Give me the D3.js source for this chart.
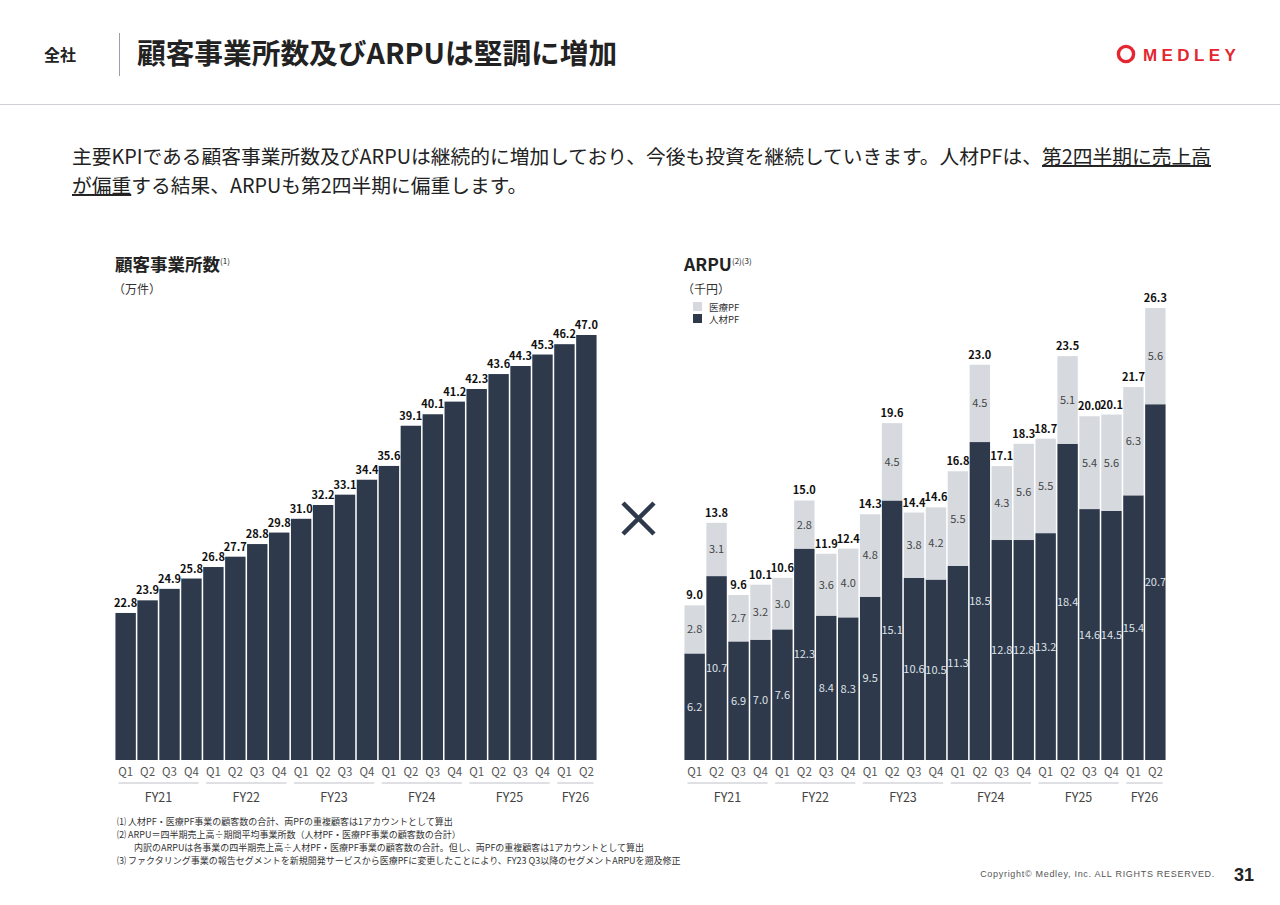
<!DOCTYPE html>
<html lang="ja">
<head>
<meta charset="utf-8">
<script src="https://cdn.jsdelivr.net/npm/d3@7"></script>
<style>
  html, body { margin: 0; padding: 0; background: #fff; }
  svg { display: block; font-family: "Noto Sans CJK JP", "Noto Sans", sans-serif; }
</style>
</head>
<body>
<svg id="slide" width="1280" height="905"></svg>
<script>
// ---- data ----
var fyLabels = ["FY21", "FY22", "FY23", "FY24", "FY25", "FY26"];
var fyQuarters = [4, 4, 4, 4, 4, 2];
var qLabels = ["Q1", "Q2", "Q3", "Q4"];

var offices = [22.8, 23.9, 24.9, 25.8, 26.8, 27.7, 28.8, 29.8, 31.0, 32.2, 33.1,
               34.4, 35.6, 39.1, 40.1, 41.2, 42.3, 43.6, 44.3, 45.3, 46.2, 47.0];

var arpuTotal  = [9.0, 13.8, 9.6, 10.1, 10.6, 15.0, 11.9, 12.4, 14.3, 19.6, 14.4,
                  14.6, 16.8, 23.0, 17.1, 18.3, 18.7, 23.5, 20.0, 20.1, 21.7, 26.3];
var arpuJinzai = [6.2, 10.7, 6.9, 7.0, 7.6, 12.3, 8.4, 8.3, 9.5, 15.1, 10.6,
                  10.5, 11.3, 18.5, 12.8, 12.8, 13.2, 18.4, 14.6, 14.5, 15.4, 20.7];
var arpuIryo   = [2.8, 3.1, 2.7, 3.2, 3.0, 2.8, 3.6, 4.0, 4.8, 4.5, 3.8,
                  4.2, 5.5, 4.5, 4.3, 5.6, 5.5, 5.1, 5.4, 5.6, 6.3, 5.6];

var footnotes = [
  "⑴ 人材PF・医療PF事業の顧客数の合計、両PFの重複顧客は1アカウントとして算出",
  "⑵ ARPU＝四半期売上高÷期間平均事業所数（人材PF・医療PF事業の顧客数の合計）",
  "内訳のARPUは各事業の四半期売上高÷人材PF・医療PF事業の顧客数の合計。但し、両PFの重複顧客は1アカウントとして算出",
  "⑶ ファクタリング事業の報告セグメントを新規開発サービスから医療PFに変更したことにより、FY23 Q3以降のセグメントARPUを遡及修正"
];

var DARK = "#2e394c", LIGHT = "#d6dadf";

// periods (one per bar)
var periods = [];
fyLabels.forEach(function(fy, i) {
  for (var q = 0; q < fyQuarters[i]; q++) periods.push({id: fy + qLabels[q], fy: fy, q: qLabels[q]});
});
periods.forEach(function(p, i) {
  p.offices = offices[i];
  p.total = arpuTotal[i];
  p.jinzai = arpuJinzai[i];
  p.iryo = arpuIryo[i];
});

var svg = d3.select("#slide");

// ---- header ----
svg.append("text").attr("x", 44).attr("y", 61).attr("font-size", 16).attr("font-weight", 700)
  .attr("fill", "#222").text("全社");
svg.append("line").attr("x1", 119.5).attr("x2", 119.5).attr("y1", 33).attr("y2", 76)
  .attr("stroke", "#9aa0a8").attr("stroke-width", 1);
svg.append("text").attr("x", 137).attr("y", 64).attr("font-size", 28.7).attr("font-weight", 700)
  .attr("fill", "#222").text("顧客事業所数及びARPUは堅調に増加");
svg.append("line").attr("x1", 0).attr("x2", 1280).attr("y1", 104.5).attr("y2", 104.5)
  .attr("stroke", "#cfd2d6").attr("stroke-width", 1.2);

// logo
var logo = svg.append("g").attr("transform", "translate(1126,54)");
logo.append("circle").attr("r", 7.6).attr("fill", "none").attr("stroke", "#e3262f").attr("stroke-width", 3.4);
logo.append("path").attr("d", "M-4,-2 L3,-5 L3,4 Z").attr("fill", "#fff");
svg.append("text").attr("x", 1143).attr("y", 60.5).attr("font-family", "'Liberation Sans', Arial, sans-serif")
  .attr("font-size", 17).attr("font-weight", 700).attr("letter-spacing", 4.4).attr("fill", "#e3262f").text("MEDLEY");

// lead text
var lead1 = svg.append("text").attr("x", 72).attr("y", 164).attr("font-size", 19.75).attr("fill", "#222");
lead1.append("tspan").text("主要KPIである顧客事業所数及びARPUは継続的に増加しており、今後も投資を継続していきます。人材PFは、");
lead1.append("tspan").style("text-decoration", "underline").text("第2四半期に売上高");
var lead2 = svg.append("text").attr("x", 72).attr("y", 193).attr("font-size", 19.75).attr("fill", "#222");
lead2.append("tspan").style("text-decoration", "underline").text("が偏重");
lead2.append("tspan").text("する結果、ARPUも第2四半期に偏重します。");

// ---- shared axis drawer ----
function drawAxis(g, x) {
  g.selectAll(".ql").data(periods).enter().append("text")
    .attr("x", function(d) { return x(d.id) + x.bandwidth() / 2; })
    .attr("y", 776).attr("text-anchor", "middle").attr("font-size", 11.5).attr("fill", "#555")
    .text(function(d) { return d.q; });
  var start = 0;
  fyLabels.forEach(function(fy, i) {
    var first = periods[start].id, last = periods[start + fyQuarters[i] - 1].id;
    var x0 = x(first) + 3, x1 = x(last) + x.bandwidth() - 3;
    g.append("line").attr("x1", x0).attr("x2", x1).attr("y1", 783).attr("y2", 783)
      .attr("stroke", "#d3d6da").attr("stroke-width", 1.5);
    g.append("text").attr("x", (x0 + x1) / 2).attr("y", 802).attr("text-anchor", "middle")
      .attr("font-size", 12.5).attr("fill", "#444").text(fy);
    start += fyQuarters[i];
  });
}

function chartTitle(x, title, sup, unit) {
  var t = svg.append("text").attr("x", x).attr("y", 271).attr("font-size", 17.5).attr("font-weight", 700).attr("fill", "#222");
  t.append("tspan").text(title);
  t.append("tspan").attr("font-size", 8).attr("font-weight", 400).attr("dy", -7).text(sup);
  svg.append("text").attr("x", x - 2).attr("y", 294).attr("font-size", 12).attr("fill", "#333").text(unit);
}

// ---- left chart: 顧客事業所数 ----
chartTitle(115, "顧客事業所数", "(1)", "（万件）");

var xL = d3.scaleBand().domain(periods.map(function(d) { return d.id; }))
  .range([115, 597]).paddingInner(0.07).paddingOuter(0.02);
var yL = d3.scaleLinear().domain([10, 47]).range([760, 335]);

var gL = svg.append("g");
gL.selectAll("rect").data(periods).enter().append("rect")
  .attr("x", function(d) { return xL(d.id); })
  .attr("y", function(d) { return yL(d.offices); })
  .attr("width", xL.bandwidth())
  .attr("height", function(d) { return yL(10) - yL(d.offices); })
  .attr("fill", DARK);
gL.selectAll(".vl").data(periods).enter().append("text")
  .attr("x", function(d) { return xL(d.id) + xL.bandwidth() / 2; })
  .attr("y", function(d) { return yL(d.offices) - 6; })
  .attr("text-anchor", "middle").attr("font-size", 11).attr("font-weight", 700).attr("fill", "#111")
  .text(function(d) { return d.offices.toFixed(1); });
drawAxis(gL, xL);

// multiply sign
svg.append("path").attr("d", "M623,503 L654,534 M654,503 L623,534")
  .attr("stroke", DARK).attr("stroke-width", 4.5).attr("fill", "none");

// ---- right chart: ARPU ----
chartTitle(684, "ARPU", "(2)(3)", "（千円）");

var legend = [{name: "医療PF", color: LIGHT}, {name: "人材PF", color: DARK}];
var lg = svg.selectAll(".lg").data(legend).enter().append("g")
  .attr("transform", function(d, i) { return "translate(693," + (302 + i * 12) + ")"; });
lg.append("rect").attr("width", 9).attr("height", 9).attr("fill", function(d) { return d.color; });
lg.append("text").attr("x", 16).attr("y", 8.5).attr("font-size", 9.5).attr("fill", "#333")
  .text(function(d) { return d.name; });

var xR = d3.scaleBand().domain(periods.map(function(d) { return d.id; }))
  .range([684, 1166]).paddingInner(0.07).paddingOuter(0.02);
var yR = d3.scaleLinear().domain([0, 26.3]).range([760, 308]);

var stack = d3.stack().keys(["jinzai", "iryo"])(periods);
var colors = {jinzai: DARK, iryo: LIGHT};
var labelColors = {jinzai: "#dfe2e6", iryo: "#444"};

var gR = svg.append("g");
stack.forEach(function(layer) {
  var key = layer.key;
  gR.selectAll(".r-" + key).data(layer).enter().append("rect")
    .attr("x", function(d) { return xR(d.data.id); })
    .attr("y", function(d) { return yR(d[1]); })
    .attr("width", xR.bandwidth())
    .attr("height", function(d) { return yR(d[0]) - yR(d[1]); })
    .attr("fill", colors[key]);
  gR.selectAll(".t-" + key).data(layer).enter().append("text")
    .attr("x", function(d) { return xR(d.data.id) + xR.bandwidth() / 2; })
    .attr("y", function(d) { return (yR(d[0]) + yR(d[1])) / 2 + 4; })
    .attr("text-anchor", "middle").attr("font-size", 11).attr("fill", labelColors[key])
    .text(function(d) { return d.data[key].toFixed(1); });
});
gR.selectAll(".tot").data(periods).enter().append("text")
  .attr("x", function(d) { return xR(d.id) + xR.bandwidth() / 2; })
  .attr("y", function(d) { return yR(d.jinzai + d.iryo) - 6; })
  .attr("text-anchor", "middle").attr("font-size", 11).attr("font-weight", 700).attr("fill", "#111")
  .text(function(d) { return d.total.toFixed(1); });
drawAxis(gR, xR);

// ---- footnotes ----
svg.selectAll(".fn").data(footnotes).enter().append("text")
  .attr("x", function(d, i) { return i === 2 ? 134 : 117; })
  .attr("y", function(d, i) { return 825 + i * 13; })
  .attr("font-size", 9).attr("fill", "#333")
  .text(function(d) { return d; });

// ---- footer ----
svg.append("text").attr("x", 1215).attr("y", 877).attr("text-anchor", "end")
  .attr("font-family", "'Liberation Sans', Arial, sans-serif").attr("font-size", 9)
  .attr("letter-spacing", 0.7).attr("fill", "#555").text("Copyright© Medley, Inc. ALL RIGHTS RESERVED.");
svg.append("text").attr("x", 1234).attr("y", 881).attr("font-family", "'Liberation Sans', Arial, sans-serif")
  .attr("font-size", 18).attr("font-weight", 700).attr("fill", "#222").text("31");
</script>
</body>
</html>
